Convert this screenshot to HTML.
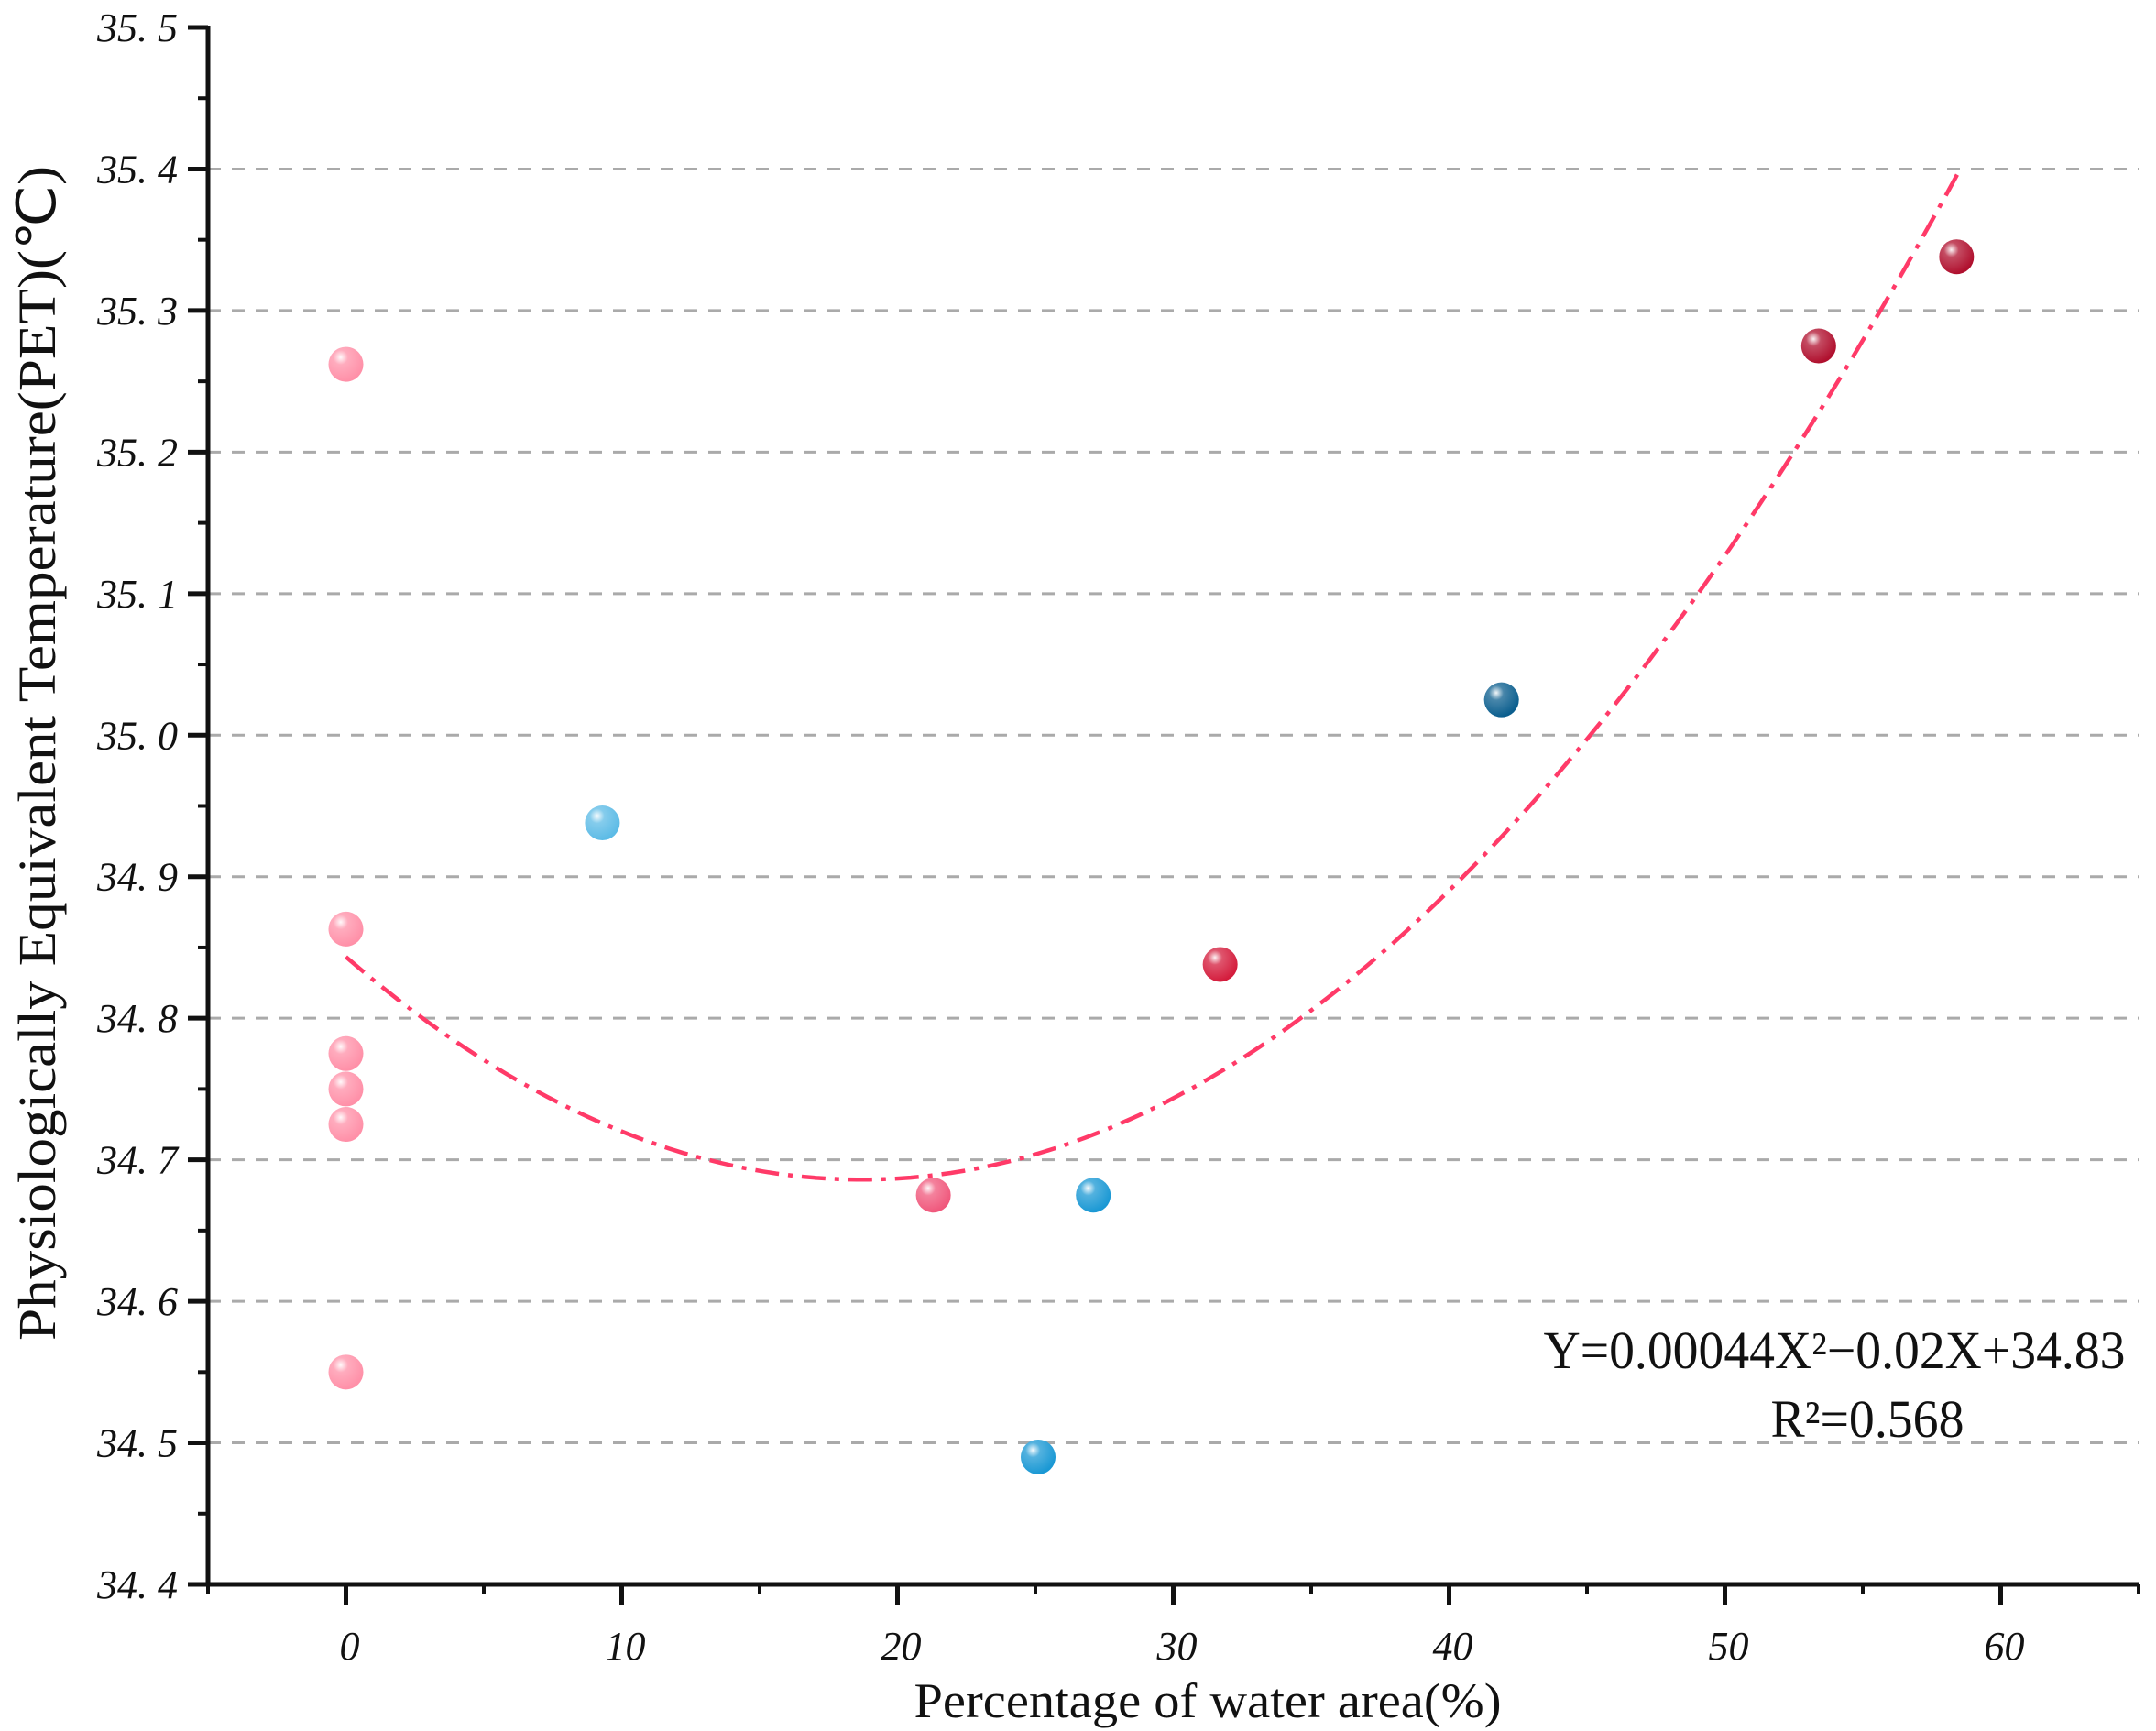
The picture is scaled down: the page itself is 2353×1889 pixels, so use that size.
<!DOCTYPE html>
<html><head><meta charset="utf-8"><style>
html,body{margin:0;padding:0;background:#fff;}
svg{display:block;}
</style></head><body>
<svg id="chart" width="2353" height="1889" xmlns="http://www.w3.org/2000/svg">
<defs>
<radialGradient id="shine" cx="0.35" cy="0.3" r="0.7">
<stop offset="0" stop-color="#fff" stop-opacity="0.95"/>
<stop offset="0.3" stop-color="#fff" stop-opacity="0.25"/>
<stop offset="1" stop-color="#fff" stop-opacity="0"/>
</radialGradient>
</defs>
<g id="grid"></g>
<g id="axes"></g>
<g id="curve"></g>
<g id="points"></g>
<text transform="translate(60,822) rotate(-90)" text-anchor="middle" font-family="Liberation Serif, serif" font-size="58" textLength="1282" lengthAdjust="spacingAndGlyphs" fill="#111">Physiologically Equivalent Temperature(PET)(℃)</text>
<text x="1318" y="1874" text-anchor="middle" font-family="Liberation Serif, serif" font-size="54" textLength="641" lengthAdjust="spacingAndGlyphs" fill="#111">Percentage of water area(%)</text>
<text x="2002" y="1493" text-anchor="middle" font-family="Liberation Serif, serif" font-size="58" textLength="635" lengthAdjust="spacingAndGlyphs" fill="#111">Y=0.00044X²−0.02X+34.83</text>
<text x="2038" y="1568" text-anchor="middle" font-family="Liberation Serif, serif" font-size="58" textLength="211" lengthAdjust="spacingAndGlyphs" fill="#111">R²=0.568</text>
</svg>
<script>
const xTicks = [0,10,20,30,40,50,60];
const yTicks = [34.4,34.5,34.6,34.7,34.8,34.9,35.0,35.1,35.2,35.3,35.4,35.5];
const yTickLabels = ["34. 4","34. 5","34. 6","34. 7","34. 8","34. 9","35. 0","35. 1","35. 2","35. 3","35. 4","35. 5"];
const pointX = [0,0,0,0,0,0,9.3,21.3,27.1,25.1,31.7,41.9,53.4,58.4];
const pointY = [35.262,34.863,34.775,34.75,34.725,34.55,34.938,34.675,34.675,34.49,34.838,35.025,35.275,35.338];
const pointColor = ["#ff90a8","#ff90a8","#ff90a8","#ff90a8","#ff90a8","#ff90a8","#5cbbe6","#f0587c","#1a98d4","#1a98d4","#d41c3c","#0b5e8e","#b0102e","#b0102e"];
const fitA = [0.00045], fitVx = [18.7], fitVy = [34.686], fitRange = [0,58.5];

const NS="http://www.w3.org/2000/svg";
const X0=227,X1=2334,Y0=1729,Y1=30;
const sx=v=>X0+(v-(-5))/70*(X1-X0);
const sy=v=>Y0-(v-34.4)/1.1*(Y0-Y1);
function mk(tag,attrs,parent){const e=document.createElementNS(NS,tag);for(const k in attrs)e.setAttribute(k,attrs[k]);parent.appendChild(e);return e;}
const grid=document.getElementById('grid'),axes=document.getElementById('axes'),curve=document.getElementById('curve'),pts=document.getElementById('points');

yTicks.forEach((v,i)=>{
  const y=sy(v);
  if(v>34.45&&v<35.45){
    const g=mk('line',{x1:X0,x2:X1,y1:y,y2:y,stroke:'#aaa','stroke-width':3,'stroke-dasharray':'14 12'},grid);
    
    
  }
  const t=mk('line',{x1:X0-22,x2:X0,y1:y,y2:y,stroke:'#111','stroke-width':5},axes);
  
  
  const tx=mk('text',{x:X0-33,y:y+15,'text-anchor':'end','font-family':'Liberation Serif, serif','font-style':'italic','font-size':44,fill:'#111'},axes);
  tx.textContent=yTickLabels[i];
  
  
  if(i<yTicks.length-1){
    const m=mk('line',{x1:X0-11,x2:X0,y1:sy(v+0.05),y2:sy(v+0.05),stroke:'#111','stroke-width':4},axes);
    
    
  }
});
xTicks.forEach(v=>{
  const x=sx(v);
  const t=mk('line',{x1:x,x2:x,y1:Y0,y2:Y0+22,stroke:'#111','stroke-width':5},axes);
  
  
  const tx=mk('text',{x:x+4,y:Y0+82,'text-anchor':'middle','font-family':'Liberation Serif, serif','font-style':'italic','font-size':44,fill:'#111'},axes);
  tx.textContent=String(v);
  
  
});
[-5,5,15,25,35,45,55,65].forEach(v=>{
  const m=mk('line',{x1:sx(v),x2:sx(v),y1:Y0,y2:Y0+11,stroke:'#111','stroke-width':4},axes);
  
  
});
const ya=mk('line',{x1:X0,x2:X0,y1:Y1-2,y2:Y0+2,stroke:'#111','stroke-width':5},axes);


const xa=mk('line',{x1:X0-2,x2:X1,y1:Y0,y2:Y0,stroke:'#111','stroke-width':5},axes);



let d='';
for(let i=0;i<=120;i++){const x=fitRange[0]+(fitRange[1]-fitRange[0])*i/120;const y=fitA[0]*(x-fitVx[0])**2+fitVy[0];d+=(i?'L':'M')+sx(x).toFixed(1)+','+sy(y).toFixed(1);}
const c=mk('path',{d:d,fill:'none',stroke:'#ff3a68','stroke-width':4.5,'stroke-dasharray':'26 10 5 10'},curve);



pointX.forEach((v,i)=>{
  const cx=sx(v),cy=sy(pointY[i]);
  const p=mk('circle',{cx:cx,cy:cy,r:19,fill:pointColor[i]},pts);
  
  
  const h=mk('circle',{cx:cx,cy:cy,r:19,fill:'url(#shine)'},pts);
  
  
});
</script>
</body></html>
